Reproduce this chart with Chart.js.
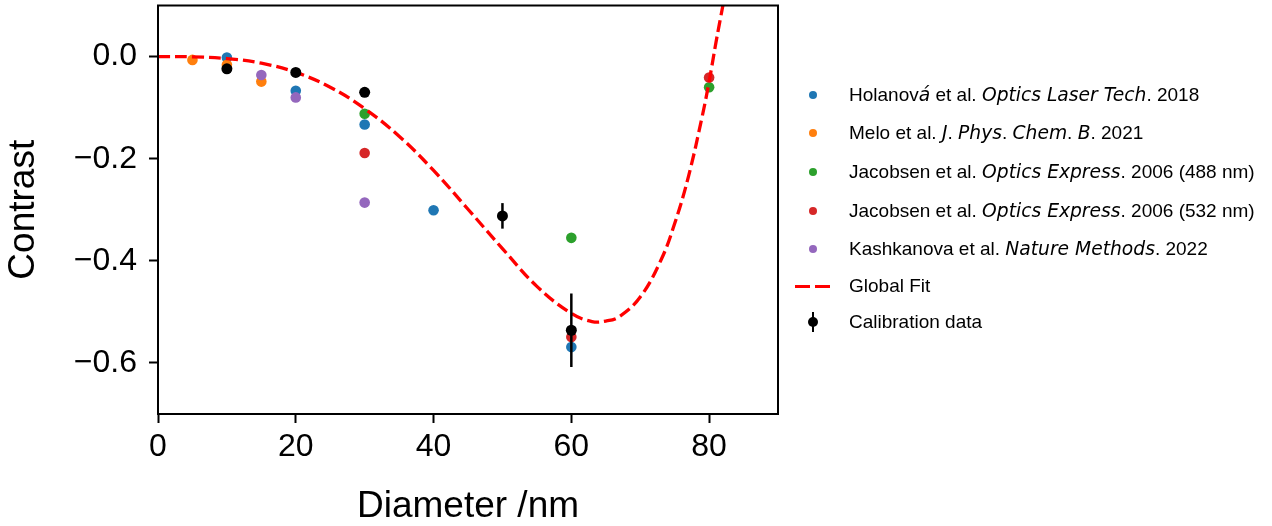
<!DOCTYPE html>
<html>
<head>
<meta charset="utf-8">
<script src="https://cdn.jsdelivr.net/npm/chart.js@4"></script>
<style>
    body { margin: 0; background: #fff; }
    #wrap { position: relative; width: 1272px; height: 526px; }
    #chart { position: absolute; left: 0; top: 0; }
    .row { position: absolute; left: 790px; height: 30px; display: flex; align-items: center;
           font-family: "Liberation Sans", Arial, sans-serif; font-size: 19px; color: #000; white-space: nowrap; }
    .row i { font-family: "DejaVu Sans", sans-serif; font-style: oblique; font-size: 18.7px; }
    .mark { width: 46px; height: 30px; position: relative; margin-right: 13px; }
    .dot { position: absolute; left: 19px; top: 11px; width: 8px; height: 8px; border-radius: 50%; }
</style>
</head>
<body>
<div id="wrap">
    <canvas id="chart" width="1272" height="526"></canvas>
    <div id="legend"></div>
</div>
<script>
// ---- data ----
const holanovaX = [10, 20, 30, 40, 60];
const holanovaY = [-0.002, -0.067, -0.133, -0.301, -0.569];

const meloX = [5, 10, 15];
const meloY = [-0.0065, -0.016, -0.049];

const jacobsen488X = [30, 60, 80];
const jacobsen488Y = [-0.112, -0.355, -0.060];

const jacobsen532X = [30, 60, 80];
const jacobsen532Y = [-0.189, -0.549, -0.041];

const kashkanovaX = [15, 20, 30];
const kashkanovaY = [-0.036, -0.080, -0.286];

const calibX = [10, 20, 30, 50, 60];
const calibY = [-0.024, -0.031, -0.070, -0.312, -0.536];
const calibErr = [0.008, 0.006, 0.009, 0.025, 0.072];

// global fit curve
const fitX = [0, 5, 10, 15, 20, 25, 30, 35, 40, 45, 50, 55, 60, 63, 65, 67, 70, 73, 75, 77, 79, 80, 81, 82];
const fitY = [0, -0.0005, -0.004, -0.013, -0.031, -0.060, -0.102, -0.156, -0.223, -0.299, -0.376, -0.450,
              -0.503, -0.519, -0.518, -0.509, -0.471, -0.399, -0.327, -0.235, -0.117, -0.049, 0.028, 0.10];

const xTicks = [0, 20, 40, 60, 80];
const yTicks = [-0.6, -0.4, -0.2, 0.0];

const legendLabels = [
    'Holanov<i>á</i> et al. <i>Optics Laser Tech</i>. 2018',
    'Melo et al. <i>J</i>. <i>Phys</i>. <i>Chem</i>. <i>B</i>. 2021',
    'Jacobsen et al. <i>Optics Express</i>. 2006 (488 nm)',
    'Jacobsen et al. <i>Optics Express</i>. 2006 (532 nm)',
    'Kashkanova et al. <i>Nature Methods</i>. 2022',
    'Global Fit',
    'Calibration data'
];
const colors = ['#1f77b4', '#ff7f0e', '#2ca02c', '#d62728', '#9467bd'];

function pts(xs, ys) {
    return xs.map((x, i) => ({ x: x, y: ys[i] }));
}

function scatterSet(label, xs, ys, color, order) {
    return {
        type: 'scatter',
        label: label,
        data: pts(xs, ys),
        backgroundColor: color,
        borderColor: color,
        borderWidth: 0,
        pointRadius: 5.3,
        pointHoverRadius: 5.3,
        order: order
    };
}

const font = 'Liberation Sans, Arial, sans-serif';

// error bars for the calibration points, drawn just before its markers
const errorBars = {
    id: 'errorBars',
    beforeDatasetDraw(chart, args) {
        if (args.index !== 6) return;
        const ctx = chart.ctx;
        const xs = chart.scales.x, ys = chart.scales.y;
        ctx.save();
        ctx.strokeStyle = '#000';
        ctx.lineWidth = 2.5;
        calibX.forEach((x, i) => {
            const px = xs.getPixelForValue(x);
            ctx.beginPath();
            ctx.moveTo(px, ys.getPixelForValue(calibY[i] - calibErr[i]));
            ctx.lineTo(px, ys.getPixelForValue(calibY[i] + calibErr[i]));
            ctx.stroke();
        });
        ctx.restore();
    }
};

// closed box around the plot area
const frame = {
    id: 'frame',
    afterDraw(chart) {
        const a = chart.chartArea, ctx = chart.ctx;
        ctx.save();
        ctx.strokeStyle = '#000';
        ctx.lineWidth = 2;
        ctx.strokeRect(a.left, a.top, a.right - a.left, a.bottom - a.top);
        ctx.restore();
    }
};

function noPad(s) {
    s.paddingTop = 0; s.paddingBottom = 0; s.paddingLeft = 0; s.paddingRight = 0;
}

new Chart(document.getElementById('chart'), {
    data: {
        datasets: [
            scatterSet('Holanová', holanovaX, holanovaY, colors[0], 7),
            scatterSet('Melo', meloX, meloY, colors[1], 6),
            scatterSet('Jacobsen 488', jacobsen488X, jacobsen488Y, colors[2], 5),
            scatterSet('Jacobsen 532', jacobsen532X, jacobsen532Y, colors[3], 4),
            scatterSet('Kashkanova', kashkanovaX, kashkanovaY, colors[4], 3),
            {
                type: 'line',
                label: 'Global Fit',
                data: pts(fitX, fitY),
                borderColor: '#ff0000',
                borderWidth: 3.3,
                borderDash: [12, 5],
                pointRadius: 0,
                tension: 0.4,
                fill: false,
                order: 2
            },
            Object.assign(scatterSet('Calibration data', calibX, calibY, '#000', 1), { pointRadius: 5.5 })
        ]
    },
    options: {
        responsive: false,
        animation: false,
        events: [],
        layout: { padding: { left: 0, right: 494, top: 4, bottom: 0 } },
        plugins: { legend: { display: false }, tooltip: { enabled: false } },
        scales: {
            x: {
                type: 'linear',
                min: 0,
                max: 90,
                afterBuildTicks: s => { s.ticks = xTicks.map(v => ({ value: v })); },
                afterFit: s => { s.height = 112; noPad(s); },
                ticks: { font: { family: font, size: 32 }, color: '#000', padding: 5, maxRotation: 0,
                         callback: v => String(v) },
                grid: { drawOnChartArea: false, drawTicks: true, tickLength: 9, tickWidth: 2, tickColor: '#000' },
                border: { color: '#000', width: 2 },
                title: { display: true, text: 'Diameter /nm', color: '#000',
                         font: { family: font, size: 37, lineHeight: 1 }, padding: { top: 0, bottom: 1 } }
            },
            y: {
                type: 'linear',
                min: -0.7,
                max: 0.1,
                afterBuildTicks: s => { s.ticks = yTicks.map(v => ({ value: v })); },
                afterFit: s => { s.width = 158; noPad(s); },
                ticks: { font: { family: font, size: 32 }, color: '#000', padding: 12,
                         callback: v => v.toFixed(1).replace('-', '\u2212') },
                grid: { drawOnChartArea: false, drawTicks: true, tickLength: 9, tickWidth: 2, tickColor: '#000' },
                border: { color: '#000', width: 2 },
                title: { display: true, text: 'Contrast', color: '#000',
                         font: { family: font, size: 37, lineHeight: 1 }, padding: { top: 5, bottom: 0 } }
            }
        }
    },
    plugins: [errorBars, frame]
});

// legend (html so the italic journal names stay real text)
const rowCenters = [95, 133, 172, 211, 249, 286, 322];
const legend = document.getElementById('legend');
legendLabels.forEach((lab, i) => {
    const row = document.createElement('div');
    row.className = 'row';
    row.style.top = (rowCenters[i] - 15) + 'px';
    let mark = '';
    if (i < 5) {
        mark = `<div class="dot" style="background:${colors[i]}"></div>`;
    } else if (i === 5) {
        mark = '<div style="position:absolute;left:5px;top:13.5px;width:15px;height:3px;background:#f00"></div>' +
               '<div style="position:absolute;left:25px;top:13.5px;width:15px;height:3px;background:#f00"></div>';
    } else {
        mark = '<div style="position:absolute;left:22px;top:5px;width:2px;height:20px;background:#000"></div>' +
               '<div class="dot" style="background:#000;left:18px;top:10px;width:10px;height:10px"></div>';
    }
    row.innerHTML = `<div class="mark">${mark}</div><span>${lab}</span>`;
    legend.appendChild(row);
});
</script>
</body>
</html>
